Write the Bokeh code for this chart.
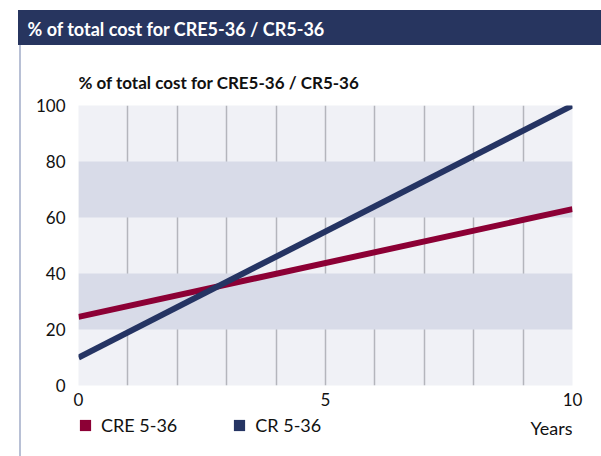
from bokeh.plotting import figure
from bokeh.layouts import column
from bokeh.models import (Legend, LegendItem, FixedTicker, ColumnDataSource, Label, Range1d)
from bokeh.embed import file_html
from bokeh.resources import INLINE

# ---- data ----
years = [0, 10]
cre_5_36 = [24.5, 63]
cr_5_36 = [10, 100]
x_ticks = [0, 5, 10]
x_grid = [1, 2, 3, 4, 5, 6, 7, 8, 9]
y_ticks = [0, 20, 40, 60, 80, 100]
series_names = ["CRE 5-36", "CR 5-36"]
header_text = "% of total cost for CRE5-36 / CR5-36"
title_text = "% of total cost for CRE5-36 / CR5-36"
x_unit = "Years"

FONT = "Lato"
NAVY = "#253463"
CRIMSON = "#8C0035"
HEADER = "#27355F"
BORDER = "#B8C0D5"
TXT = "#111111"


def plain(fig):
    fig.axis.visible = False
    fig.grid.visible = False
    fig.outline_line_color = None
    fig.background_fill_alpha = 0
    fig.border_fill_alpha = 0


# ---- header strip (page pixels 0..93) ----
hdr = figure(width=601, height=93, x_range=Range1d(78, 572), y_range=Range1d(0, 1),
             output_backend="svg", toolbar_location=None,
             min_border_left=78, min_border_right=29, min_border_top=0, min_border_bottom=0)
plain(hdr)
hdr.styles = {"background": (f"linear-gradient({HEADER}, {HEADER}) 18px 10px / 583px 35px no-repeat, "
                             f"linear-gradient({BORDER}, {BORDER}) 19px 45px / 2px 48px no-repeat, "
                             "#ffffff")}
hdr.title.text = header_text
hdr.title.align = "left"
hdr.title.offset = -51
hdr.title.vertical_align = "middle"
hdr.title.standoff = 32
hdr.title.text_font = FONT
hdr.title.text_font_style = "bold"
hdr.title.text_font_size = "18px"
hdr.title.text_color = "white"
hdr.add_layout(Label(x=78, y=11, y_units="screen", text=title_text, text_font=FONT,
                     text_font_style="bold", text_font_size="17px", text_color=TXT,
                     text_baseline="alphabetic"))

# ---- main chart (page pixels 93..413) ----
p = figure(width=601, height=320, x_range=(0, 10), y_range=(0, 100),
           output_backend="svg", toolbar_location=None,
           min_border_left=78, min_border_right=29, min_border_top=12, min_border_bottom=28)
p.title.visible = False
p.outline_line_color = None
p.background_fill_color = "#F0F1F6"
p.border_fill_alpha = 0
p.styles = {"background": f"linear-gradient({BORDER}, {BORDER}) 19px 0px / 2px 320px no-repeat, #ffffff"}

p.ygrid.ticker = FixedTicker(ticks=y_ticks)
p.ygrid.grid_line_color = None
p.ygrid.band_fill_color = "#D8DBE8"
p.ygrid.band_fill_alpha = 1
p.xgrid.ticker = FixedTicker(ticks=x_grid)
p.xgrid.grid_line_color = "#B4B5BC"
p.xgrid.grid_line_width = 1.5

p.xaxis.ticker = FixedTicker(ticks=x_ticks)
p.yaxis.ticker = FixedTicker(ticks=y_ticks)
for ax in (p.xaxis[0], p.yaxis[0]):
    ax.axis_line_color = None
    ax.major_tick_line_color = None
    ax.minor_tick_line_color = None
    ax.major_tick_out = 0
    ax.minor_tick_out = 0
    ax.major_label_text_font = FONT
    ax.major_label_text_font_size = "17px"
    ax.major_label_text_color = TXT
p.yaxis.major_label_standoff = 13
p.xaxis.major_label_standoff = 7

src = ColumnDataSource(dict(x=years, cre=cre_5_36, cr=cr_5_36))
p.line("x", "cre", source=src, line_color=CRIMSON, line_width=6)
p.line("x", "cr", source=src, line_color=NAVY, line_width=6)

# ---- footer strip (page pixels 413..456): legend and axis unit ----
ftr = figure(width=601, height=43, x_range=Range1d(78, 572), y_range=Range1d(456, 413),
             output_backend="svg", toolbar_location=None,
             min_border_left=78, min_border_right=29, min_border_top=0, min_border_bottom=0)
plain(ftr)
ftr.styles = {"background": f"linear-gradient({BORDER}, {BORDER}) 19px 0px / 2px 43px no-repeat, #ffffff"}
ftr.add_layout(Label(x=572, y=427, text=x_unit, text_font=FONT, text_font_size="18px",
                     text_color=TXT, text_align="right", text_baseline="alphabetic"))

nan_src = ColumnDataSource(dict(l=[float("nan")], r=[float("nan")], b=[float("nan")], t=[float("nan")]))
q1 = ftr.quad(left="l", right="r", bottom="b", top="t", source=nan_src, fill_color=CRIMSON, line_color=None)
q2 = ftr.quad(left="l", right="r", bottom="b", top="t", source=nan_src, fill_color=NAVY, line_color=None)
legend = Legend(items=[LegendItem(label=series_names[0], renderers=[q1]),
                       LegendItem(label=series_names[1], renderers=[q2])],
                orientation="horizontal", location=(0, 20),
                glyph_width=14, glyph_height=14, label_standoff=9, spacing=55,
                label_height=14,
                padding=0, margin=0, border_line_color=None, background_fill_alpha=0,
                label_text_font=FONT, label_text_font_size="18px", label_text_color=TXT)
ftr.add_layout(legend)

layout = column(hdr, p, ftr, spacing=0)
open("out.html", "w").write(file_html(layout, INLINE))
